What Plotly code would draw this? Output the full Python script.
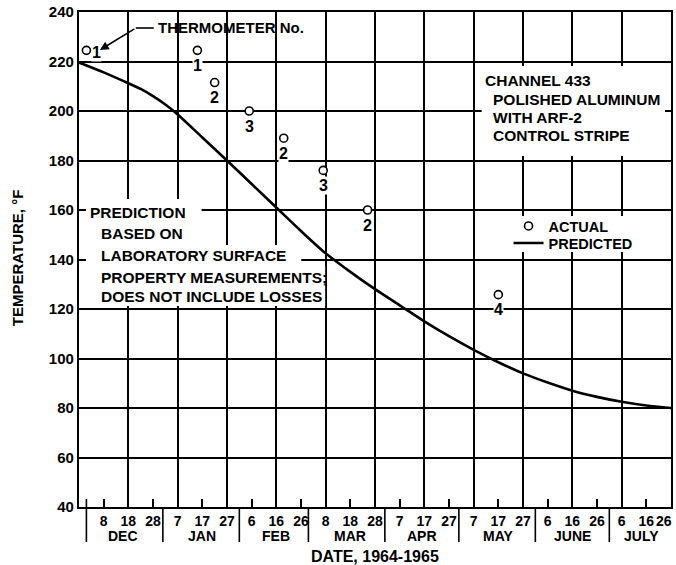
import plotly.graph_objects as go

# ---------------- data ----------------
pred_dates = ["1964-11-28", "1964-12-08", "1964-12-18", "1964-12-23", "1964-12-28",
              "1965-01-02", "1965-01-07", "1965-01-17", "1965-01-27", "1965-02-06",
              "1965-02-16", "1965-02-26", "1965-03-08", "1965-03-18", "1965-03-28",
              "1965-04-07", "1965-04-17", "1965-04-27", "1965-05-07", "1965-05-17",
              "1965-05-27", "1965-06-06", "1965-06-16", "1965-06-26", "1965-07-06",
              "1965-07-16", "1965-07-26"]
pred_temp = [219.6, 215.6, 211.2, 208.9, 206.0, 202.6, 198.6, 189.3, 180, 170.5,
             161, 151.5, 142.5, 135, 128, 121.5, 115, 109, 103.5, 98.5,
             94, 90.3, 87, 84.5, 82.5, 81, 80]

actual_dates = ["1964-12-01", "1965-01-15", "1965-01-22", "1965-02-05",
                "1965-02-19", "1965-03-07", "1965-03-25", "1965-05-17"]
actual_temp = [224.5, 224.5, 211.5, 200, 189, 176, 160, 125.8]
thermometer_no = ["1", "1", "2", "3", "2", "3", "2", "4"]

day_tick_dates = ["1964-12-08", "1964-12-18", "1964-12-28", "1965-01-07", "1965-01-17",
                  "1965-01-27", "1965-02-06", "1965-02-16", "1965-02-26", "1965-03-08",
                  "1965-03-18", "1965-03-28", "1965-04-07", "1965-04-17", "1965-04-27",
                  "1965-05-07", "1965-05-17", "1965-05-27", "1965-06-06", "1965-06-16",
                  "1965-06-26", "1965-07-06", "1965-07-16", "1965-07-26"]
day_tick_text = ["8", "18", "28", "7", "17", "27", "6", "16", "26", "8", "18", "28",
                 "7", "17", "27", "7", "17", "27", "6", "16", "26", "6", "16", "26"]
grid_dates = ["1964-12-18", "1965-01-07", "1965-01-27", "1965-02-16", "1965-03-08",
              "1965-03-28", "1965-04-17", "1965-05-07", "1965-05-27", "1965-06-16",
              "1965-07-06"]
month_names = ["DEC", "JAN", "FEB", "MAR", "APR", "MAY", "JUNE", "JULY"]
month_label_dates = ["1964-12-16", "1965-01-17", "1965-02-16", "1965-03-18",
                     "1965-04-16", "1965-05-17", "1965-06-16", "1965-07-14"]
month_starts = ["1964-12-01", "1965-01-01", "1965-02-01", "1965-03-01",
                "1965-04-01", "1965-05-01", "1965-06-01", "1965-07-01"]
x_range = ["1964-11-28", "1965-07-26"]
y_ticks = [40, 60, 80, 100, 120, 140, 160, 180, 200, 220, 240]

# ---------------- layout helpers ----------------
W, H = 676, 565
L, R, T, B = 79, 3, 12, 58
PW, PH = W - L - R, H - T - B
FONT = "Liberation Sans, Arial, sans-serif"


def px(x):
    return (x - L) / PW


def py(y):
    return (H - B - y) / PH


fig = go.Figure()

fig.add_trace(go.Scatter(
    x=actual_dates, y=actual_temp, mode="markers", name="ACTUAL", legend="legend",
    marker=dict(symbol="circle", size=8, color="white",
                line=dict(color="black", width=1.6)),
))
fig.add_trace(go.Scatter(
    x=pred_dates, y=pred_temp, mode="lines", name="PREDICTED", legend="legend2",
    line=dict(color="black", width=2.6, shape="spline", smoothing=0.8),
))
# carrier for the gridline axis
fig.add_trace(go.Scatter(x=x_range, y=[None, None], xaxis="x2", mode="lines",
                         showlegend=False, hoverinfo="skip"))

ann = []
# thermometer numbers
for i, (d, t, n) in enumerate(zip(actual_dates, actual_temp, thermometer_no)):
    if i == 0:
        ann.append(dict(x=d, y=t, xref="x", yref="y", text=n, showarrow=False,
                        xshift=10, yshift=-2, bgcolor="white", borderpad=0,
                        font=dict(family=FONT, size=16, color="black", weight="bold")))
    else:
        ann.append(dict(x=d, y=t, xref="x", yref="y", text=n, showarrow=False,
                        yshift=-15, bgcolor="white", borderpad=0,
                        font=dict(family=FONT, size=16, color="black", weight="bold")))


def txt(s, x, y, size=15.5):
    ann.append(dict(x=px(x), y=py(y), xref="paper", yref="paper", text=s,
                    showarrow=False, xanchor="left", yanchor="middle",
                    font=dict(family=FONT, size=size, color="black", weight="bold")))


# Thermometer No. callout
txt("THERMOMETER No.", 156, 28, 15)
ann.append(dict(x=px(100), y=py(50), xref="paper", yref="paper", text="",
                showarrow=True, ax=36, ay=-22, arrowhead=2, arrowsize=1.1,
                arrowwidth=1.6, arrowcolor="black"))

# Channel box
txt("CHANNEL 433", 484, 80)
txt("POLISHED ALUMINUM", 492, 99)
txt("WITH ARF-2", 492, 117)
txt("CONTROL STRIPE", 492, 135)

# Prediction note
txt("PREDICTION", 88, 212)
txt("BASED ON", 99, 233)
txt("LABORATORY SURFACE", 99, 255)
txt("PROPERTY MEASUREMENTS;", 99, 277)
txt("DOES NOT INCLUDE LOSSES", 99, 297)

# month labels
for m, d in zip(month_names, month_label_dates):
    ann.append(dict(x=d, y=py(536), xref="x", yref="paper", text=m, showarrow=False,
                    yanchor="middle",
                    font=dict(family=FONT, size=14, color="black", weight="bold")))

# last day label sits on the right border
ann.append(dict(x=day_tick_dates[-1], y=py(521), xref="x", yref="paper",
                text=day_tick_text[-1], showarrow=False, xanchor="right",
                yanchor="middle", xshift=3,
                font=dict(family=FONT, size=14, color="black", weight="bold")))

# axis titles
ann.append(dict(x=px(376), y=py(556), xref="paper", yref="paper", text="DATE, 1964-1965",
                showarrow=False, yanchor="middle",
                font=dict(family=FONT, size=16, color="black", weight="bold")))
ann.append(dict(x=px(17), y=py(258), xref="paper", yref="paper", text="TEMPERATURE, °F",
                showarrow=False, textangle=-90, xanchor="center", yanchor="middle",
                font=dict(family=FONT, size=15, color="black", weight="bold")))

shapes = []


def white_rect(x0, y0, x1, y1):
    shapes.append(dict(type="rect", xref="paper", yref="paper", x0=px(x0), x1=px(x1),
                       y0=py(y1), y1=py(y0), fillcolor="white", line=dict(width=0),
                       layer="above"))


white_rect(483, 66, 667, 156)
white_rect(86, 199, 202, 245)
white_rect(86, 245, 302, 266)
white_rect(86, 266, 326, 306)
white_rect(512, 216, 636, 252)

# callout horizontal leader
shapes.append(dict(type="line", xref="paper", yref="paper", x0=px(136), x1=px(154),
                   y0=py(28), y1=py(28), line=dict(color="black", width=1.6),
                   layer="above"))

# month separators
for i, d in enumerate(month_starts):
    shapes.append(dict(type="line", xref="x", yref="paper", x0=d, x1=d,
                       y0=py(542), y1=py(499) if i == 0 else 0,
                       line=dict(color="black", width=1.6), layer="above"))

legfont = dict(family=FONT, size=14.5, color="black", weight="bold")
fig.update_layout(
    width=W, height=H,
    margin=dict(l=L, r=R, t=T, b=B),
    paper_bgcolor="white", plot_bgcolor="white",
    annotations=ann, shapes=shapes,
    font=dict(family=FONT, color="black"),
    legend=dict(x=px(510), y=py(210), xanchor="left", yanchor="top",
                bgcolor="rgba(0,0,0,0)", borderwidth=0, itemwidth=30, font=legfont),
    legend2=dict(x=px(510), y=py(227), xanchor="left", yanchor="top",
                 bgcolor="rgba(0,0,0,0)", borderwidth=0, itemwidth=30, font=legfont),
    xaxis=dict(type="date", range=x_range, tickmode="array",
               tickvals=day_tick_dates[:-1], ticktext=day_tick_text[:-1],
               ticks="inside", ticklen=8, tickwidth=1.6, tickcolor="black",
               showgrid=False, showline=True, linecolor="black", linewidth=2.2,
               mirror=True, zeroline=False,
               tickfont=dict(family=FONT, size=14, color="black", weight="bold")),
    xaxis2=dict(type="date", range=x_range, overlaying="x", tickmode="array",
                tickvals=grid_dates, showticklabels=False, ticks="",
                showgrid=True, gridcolor="black", gridwidth=1.5,
                showline=False, zeroline=False),
    yaxis=dict(range=[40, 240], tickmode="array", tickvals=y_ticks,
               showgrid=True, gridcolor="black", gridwidth=1.5,
               showline=True, linecolor="black", linewidth=2.2, mirror=True,
               ticks="", zeroline=False,
               tickfont=dict(family=FONT, size=15, color="black", weight="bold")),
)

fig.write_html("out.html", config={"displayModeBar": False},
               post_script="document.body.style.margin='0';"
                           "document.body.style.overflow='hidden';")
